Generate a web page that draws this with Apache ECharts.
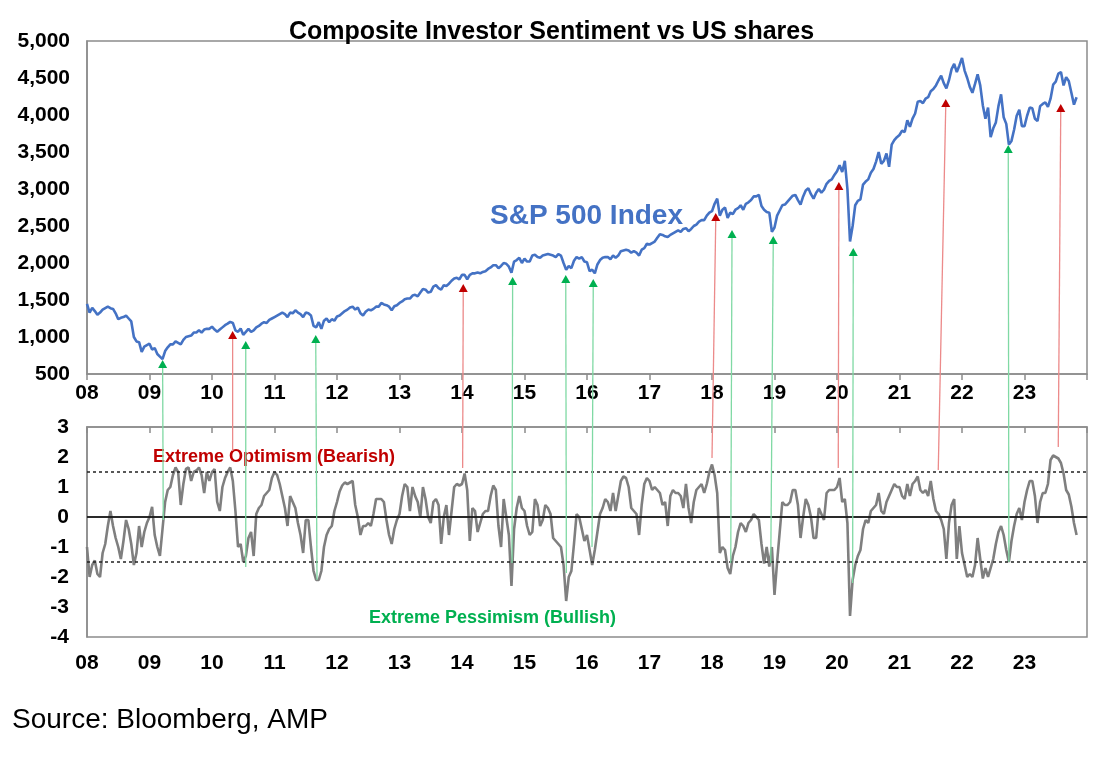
<!DOCTYPE html>
<html lang="en">
<head>
    <meta charset="UTF-8">
    <title>Composite Investor Sentiment vs US shares</title>
    <script src="https://cdn.jsdelivr.net/npm/echarts@6/dist/echarts.min.js"></script>
    <style>
        html, body { margin: 0; padding: 0; background: #fff; }
        #graph { width: 1120px; height: 760px; }
    </style>
</head>
<body>
    <div id="graph"></div>

    <script>
        // half-monthly readings, first point = start of 2008
        var startYear = 2008;
        var stepsPerYear = 24;

        // S&P 500 index
        var sp2008 = [1447, 1330, 1395, 1350, 1300, 1330, 1370, 1390, 1410, 1390, 1380, 1320, 1240, 1260, 1270, 1290, 1250, 1210, 1000, 940, 930, 800, 870, 890];
        var sp2009 = [910, 830, 850, 770, 735, 700, 810, 860, 900, 900, 940, 920, 900, 960, 1000, 1010, 1020, 1060, 1060, 1090, 1060, 1100, 1110, 1110];
        var sp2010 = [1140, 1100, 1070, 1100, 1130, 1160, 1180, 1205, 1190, 1090, 1070, 1115, 1030, 1070, 1110, 1070, 1090, 1130, 1150, 1180, 1200, 1190, 1230, 1250];
        var sp2011 = [1270, 1290, 1310, 1330, 1310, 1270, 1330, 1320, 1360, 1330, 1310, 1270, 1330, 1320, 1290, 1150, 1130, 1200, 1110, 1220, 1250, 1200, 1240, 1220];
        var sp2012 = [1277, 1290, 1320, 1350, 1370, 1400, 1410, 1370, 1400, 1320, 1290, 1340, 1370, 1360, 1380, 1410, 1410, 1460, 1440, 1430, 1410, 1360, 1415, 1430];
        var sp2013 = [1460, 1480, 1510, 1520, 1520, 1560, 1570, 1550, 1600, 1650, 1640, 1600, 1610, 1680, 1700, 1660, 1640, 1700, 1690, 1720, 1760, 1790, 1800, 1780];
        var sp2014 = [1840, 1840, 1780, 1840, 1860, 1860, 1870, 1860, 1880, 1890, 1920, 1940, 1970, 1970, 1930, 1960, 2000, 1990, 1950, 1870, 2020, 2040, 2070, 2000];
        var sp2015 = [2060, 2020, 2020, 2100, 2110, 2080, 2070, 2100, 2110, 2120, 2110, 2100, 2080, 2120, 2100, 2000, 1910, 1960, 1930, 2030, 2080, 2060, 2080, 2020];
        var sp2016 = [2010, 1890, 1910, 1860, 1980, 2040, 2070, 2080, 2080, 2050, 2100, 2070, 2100, 2160, 2170, 2180, 2170, 2140, 2160, 2140, 2100, 2180, 2200, 2260];
        var sp2017 = [2250, 2270, 2290, 2340, 2390, 2380, 2360, 2350, 2380, 2400, 2420, 2440, 2420, 2460, 2470, 2430, 2460, 2500, 2520, 2560, 2580, 2580, 2640, 2680];
        var sp2018 = [2700, 2800, 2870, 2640, 2720, 2750, 2610, 2680, 2660, 2720, 2740, 2780, 2720, 2800, 2820, 2850, 2900, 2900, 2920, 2770, 2720, 2690, 2680, 2420];
        var sp2019 = [2480, 2640, 2710, 2780, 2790, 2830, 2870, 2910, 2920, 2850, 2790, 2900, 2980, 3010, 2930, 2870, 2950, 3000, 2950, 2990, 3070, 3110, 3130, 3190];
        var sp2020 = [3240, 3320, 3230, 3380, 3000, 2290, 2500, 2780, 2840, 2860, 3060, 3100, 3130, 3220, 3270, 3370, 3500, 3340, 3380, 3480, 3300, 3600, 3660, 3700];
        var sp2021 = [3730, 3790, 3770, 3930, 3840, 3950, 4020, 4180, 4190, 4160, 4220, 4240, 4320, 4350, 4400, 4470, 4530, 4430, 4360, 4470, 4620, 4690, 4580, 4670];
        var sp2022 = [4770, 4600, 4500, 4380, 4300, 4420, 4550, 4400, 4130, 3950, 4100, 3700, 3820, 3900, 4120, 4280, 3970, 3880, 3600, 3650, 3800, 3990, 4070, 3850];
        var sp2023 = [3850, 3990, 4100, 4090, 3950, 3920, 4120, 4150, 4170, 4110, 4220, 4410, 4450, 4560, 4580, 4400, 4510, 4460, 4300, 4140, 4240];

        // composite sentiment (std devs)
        var se2008 = [-1.0, -2.0, -1.6, -1.45, -1.9, -2.0, -1.2, -0.9, -0.3, 0.2, -0.3, -0.7, -1.0, -1.4, -0.8, -0.1, -0.4, -0.9, -1.6, -1.2, -0.3, -1.0, -0.5, -0.2];
        var se2009 = [0.0, 0.34, -0.6, -1.0, -1.3, -0.4, 0.5, 0.9, 1.0, 1.4, 1.65, 1.5, 0.4, 1.1, 1.6, 1.65, 1.2, 1.5, 1.55, 1.65, 1.4, 0.8, 1.5, 1.2];
        var se2010 = [1.5, 1.6, 0.5, 0.2, 1.0, 1.3, 1.5, 1.65, 1.2, 0.2, -1.0, -0.9, -1.5, -1.3, -0.7, -0.5, -1.3, 0.1, 0.3, 0.4, 0.7, 0.8, 0.9, 1.3];
        var se2011 = [1.5, 1.4, 1.1, 0.7, 0.3, -0.3, 0.7, 0.5, 0.3, -0.2, -0.6, -1.2, -0.1, -0.1, -1.0, -1.8, -2.1, -2.1, -1.8, -1.0, -0.6, -0.4, -0.3, 0.2];
        var se2012 = [0.5, 0.85, 1.05, 1.15, 1.1, 1.15, 1.2, 0.4, 0.0, -0.6, -0.3, -0.3, -0.2, -0.3, 0.1, 0.6, 0.6, 0.6, 0.5, -0.1, -0.6, -0.9, -0.4, -0.1];
        var se2013 = [0.1, 0.7, 1.1, 1.0, 0.2, 1.0, 0.7, 0.5, 0.0, 1.0, 0.6, 0.0, -0.2, 0.5, 0.6, 0.4, -0.9, 0.0, 0.4, -0.6, 0.2, 1.0, 1.1, 1.05];
        var se2014 = [1.1, 1.45, 0.9, -0.8, 0.3, 0.2, -0.5, -0.2, 0.1, 0.2, 0.2, 0.7, 1.05, 0.9, -0.3, -1.0, 0.6, 0.0, -0.6, -2.3, -0.4, 0.3, 0.7, 0.3];
        var se2015 = [0.2, -0.3, -0.6, -0.5, 0.6, 0.4, -0.3, -0.1, 0.4, 0.3, 0.1, -0.7, -0.8, -0.9, -1.0, -1.6, -2.8, -2.0, -1.8, -0.9, 0.1, 0.0, -0.4, -0.8];
        var se2016 = [-0.6, -1.1, -1.6, -1.1, -0.5, 0.1, 0.3, 0.6, 0.5, 0.2, 0.8, 0.2, 0.7, 1.2, 1.35, 1.3, 1.0, 0.3, 0.2, 0.1, -0.6, 0.4, 1.1, 1.3];
        var se2017 = [1.2, 0.9, 1.0, 0.9, 0.8, 0.4, 0.5, -0.3, 0.7, 0.9, 0.8, 0.8, 0.7, 0.3, 1.1, 0.3, -0.2, 0.5, 0.9, 1.0, 1.1, 0.8, 1.1, 1.5];
        var se2018 = [1.75, 1.4, 0.8, -1.2, -1.0, -1.1, -1.7, -1.9, -1.3, -1.0, -0.5, -0.2, -0.3, -0.5, -0.2, -0.1, 0.1, 0.0, -0.1, -0.9, -1.55, -1.0, -1.65, -1.0];
        var se2019 = [-2.6, -1.5, -0.5, 0.5, 0.4, 0.4, 0.5, 0.9, 0.9, 0.4, -0.7, 0.0, 0.6, 0.4, 0.0, -0.7, -0.7, 0.3, 0.1, -0.1, 0.8, 0.9, 0.9, 0.9];
        var se2020 = [1.0, 1.3, 0.5, 0.6, -0.2, -3.3, -2.1, -1.6, -1.3, -1.1, -0.4, -0.1, -0.2, 0.2, 0.3, 0.4, 0.8, 0.2, 0.1, 0.5, 0.7, 0.9, 1.1, 1.0];
        var se2021 = [1.0, 0.7, 0.6, 1.1, 0.7, 1.1, 1.2, 1.35, 0.9, 0.8, 0.9, 0.7, 1.2, 0.6, 0.2, 0.1, -0.1, -0.4, -1.4, -0.2, 0.4, 0.6, -1.4, -0.3];
        var se2022 = [-1.2, -1.6, -2.0, -1.9, -2.0, -1.6, -0.7, -1.4, -2.05, -1.7, -2.0, -1.7, -1.4, -0.9, -0.5, -0.3, -0.6, -1.1, -1.5, -0.8, -0.3, 0.1, 0.3, -0.1];
        var se2023 = [0.5, 0.9, 1.2, 1.2, 0.7, -0.2, 0.5, 0.8, 0.8, 1.1, 1.9, 2.05, 2.0, 1.95, 1.8, 1.45, 0.9, 0.75, 0.35, -0.2, -0.6];

        // arrows: sentiment extreme (bottom) -> index (top)
        var arrowKind        = ['bull', 'bear', 'bull', 'bull', 'bear', 'bull', 'bull', 'bull', 'bear', 'bull', 'bull', 'bear', 'bull', 'bear', 'bull', 'bear'];
        var arrowTopYear     = [2009.21, 2010.33, 2010.54, 2011.66, 2014.02, 2014.81, 2015.66, 2016.10, 2018.06, 2018.32, 2018.98, 2020.03, 2020.26, 2021.74, 2022.74, 2023.58];
        var arrowTopValue    = [689, 1081, 946, 1027, 1716, 1810, 1838, 1784, 2675, 2446, 2365, 3094, 2203, 4216, 3594, 4148];
        var arrowBottomYear  = [2009.22, 2010.33, 2010.54, 2011.68, 2014.01, 2014.80, 2015.67, 2016.08, 2018.00, 2018.30, 2018.94, 2020.02, 2020.25, 2021.62, 2022.75, 2023.54];
        var arrowBottomValue = [-0.1, 2.2, -1.67, -2.1, 1.63, -1.53, -1.87, -1.0, 1.97, -1.53, -1.53, 1.63, -2.2, 1.57, -1.5, 2.33];

        var spValues = [].concat(sp2008, sp2009, sp2010, sp2011, sp2012, sp2013, sp2014, sp2015,
            sp2016, sp2017, sp2018, sp2019, sp2020, sp2021, sp2022, sp2023);
        var seValues = [].concat(se2008, se2009, se2010, se2011, se2012, se2013, se2014, se2015,
            se2016, se2017, se2018, se2019, se2020, se2021, se2022, se2023);

        function toPairs(vals) {
            return vals.map(function (v, i) { return [startYear + i / stepsPerYear, v]; });
        }

        var font = "'Liberation Sans', Arial, sans-serif";
        var frame = '#8c8c8c';

        function yearLabel(v) {
            if (v >= 2024) return '';
            var y = Math.round(v) % 100;
            return (y < 10 ? '0' : '') + y;
        }
        function thousands(v) {
            if (v < 1000) return String(v);
            var r = v % 1000;
            return Math.floor(v / 1000) + ',' + (r < 10 ? '00' : r < 100 ? '0' : '') + r;
        }

        var labelStyle = { color: '#000', fontFamily: font, fontSize: 21, fontWeight: 'bold' };

        var myChart = echarts.init(document.getElementById('graph'));
        var option = {
            animation: false,
            backgroundColor: '#fff',
            title: {
                text: 'Composite Investor Sentiment vs US shares',
                left: 284,
                top: 15,
                textStyle: { color: '#000', fontFamily: font, fontSize: 25, fontWeight: 'bold' }
            },
            grid: [
                { left: 87, right: 33, top: 41, height: 333, show: true, borderColor: frame, borderWidth: 1.5 },
                { left: 87, right: 33, top: 427, height: 210, show: true, borderColor: frame, borderWidth: 1.5 }
            ],
            xAxis: [
                {
                    gridIndex: 0, type: 'value', min: 2008, max: 2024, interval: 1,
                    axisLine: { lineStyle: { color: frame, width: 1.5 } },
                    axisTick: { length: 6, lineStyle: { color: frame, width: 1.5 } },
                    axisLabel: Object.assign({ formatter: yearLabel, margin: 9, showMaxLabel: true }, labelStyle),
                    splitLine: { show: false }
                },
                {
                    gridIndex: 1, type: 'value', min: 2008, max: 2024, interval: 1, position: 'bottom',
                    axisLine: { lineStyle: { color: frame, width: 1.5 } },
                    axisTick: { show: false },
                    axisLabel: Object.assign({ formatter: yearLabel, margin: 16 }, labelStyle),
                    splitLine: { show: false }
                },
                {
                    gridIndex: 1, type: 'value', min: 2008, max: 2024, interval: 1, position: 'top',
                    axisLine: { lineStyle: { color: frame, width: 1.5 } },
                    axisTick: { inside: true, length: 6, lineStyle: { color: frame, width: 1.5 } },
                    axisLabel: { show: false },
                    splitLine: { show: false }
                }
            ],
            yAxis: [
                {
                    gridIndex: 0, type: 'value', min: 500, max: 5000, interval: 500,
                    axisLine: { show: true, lineStyle: { color: frame, width: 1.5 } },
                    axisTick: { show: false },
                    axisLabel: Object.assign({ formatter: thousands, margin: 17 }, labelStyle),
                    splitLine: { show: false }
                },
                {
                    gridIndex: 1, type: 'value', min: -4, max: 3, interval: 1,
                    axisLine: { show: true, lineStyle: { color: frame, width: 1.5 } },
                    axisTick: { show: false },
                    axisLabel: Object.assign({ margin: 18 }, labelStyle),
                    splitLine: { show: false }
                }
            ],
            series: [
                {
                    name: 'S&P 500 Index', type: 'line', xAxisIndex: 0, yAxisIndex: 0,
                    data: toPairs(spValues), showSymbol: false,
                    lineStyle: { color: '#4472C4', width: 2.6 }
                },
                {
                    name: 'Sentiment', type: 'line', xAxisIndex: 1, yAxisIndex: 1,
                    data: toPairs(seValues), showSymbol: false,
                    lineStyle: { color: '#7f7f7f', width: 2.6 },
                    markLine: {
                        silent: true, symbol: ['none', 'none'], label: { show: false },
                        data: [
                            { yAxis: 0, lineStyle: { color: '#000', type: 'solid', width: 1.5 } },
                            { yAxis: 1.5, lineStyle: { color: '#222', type: [3, 3], width: 1.5 } },
                            { yAxis: -1.5, lineStyle: { color: '#222', type: [3, 3], width: 1.5 } }
                        ]
                    }
                }
            ]
        };
        myChart.setOption(option);

        function buildArrows() {
            var els = [];
            for (var i = 0; i < arrowKind.length; i++) {
                var tip = myChart.convertToPixel({ seriesIndex: 0 }, [arrowTopYear[i], arrowTopValue[i]]);
                var base = myChart.convertToPixel({ seriesIndex: 1 }, [arrowBottomYear[i], arrowBottomValue[i]]);
                var bull = arrowKind[i] === 'bull';
                els.push({
                    type: 'line', z: 50,
                    shape: { x1: base[0], y1: base[1], x2: tip[0], y2: tip[1] + 7 },
                    style: { stroke: bull ? '#80d9a4' : '#ec8a8a', lineWidth: 1.3 }
                });
                els.push({
                    type: 'polygon', z: 51,
                    shape: { points: [[tip[0], tip[1]], [tip[0] - 4.5, tip[1] + 8], [tip[0] + 4.5, tip[1] + 8]] },
                    style: { fill: bull ? '#00B050' : '#C00000' }
                });
            }
            return els;
        }

        var labels = [
            { type: 'text', left: 490, top: 202, style: { text: 'S&P 500 Index', fill: '#4472C4', font: 'bold 28px ' + font } },
            { type: 'text', left: 153, top: 448, style: { text: 'Extreme Optimism (Bearish)', fill: '#C00000', font: 'bold 18px ' + font } },
            { type: 'text', left: 369, top: 609, style: { text: 'Extreme Pessimism (Bullish)', fill: '#00B050', font: 'bold 18px ' + font } },
            { type: 'text', left: 12, top: 706, style: { text: 'Source: Bloomberg, AMP', fill: '#000', font: '28px ' + font } }
        ];
        myChart.setOption({ graphic: { elements: labels.concat(buildArrows()) } });
    </script>
</body>
</html>
